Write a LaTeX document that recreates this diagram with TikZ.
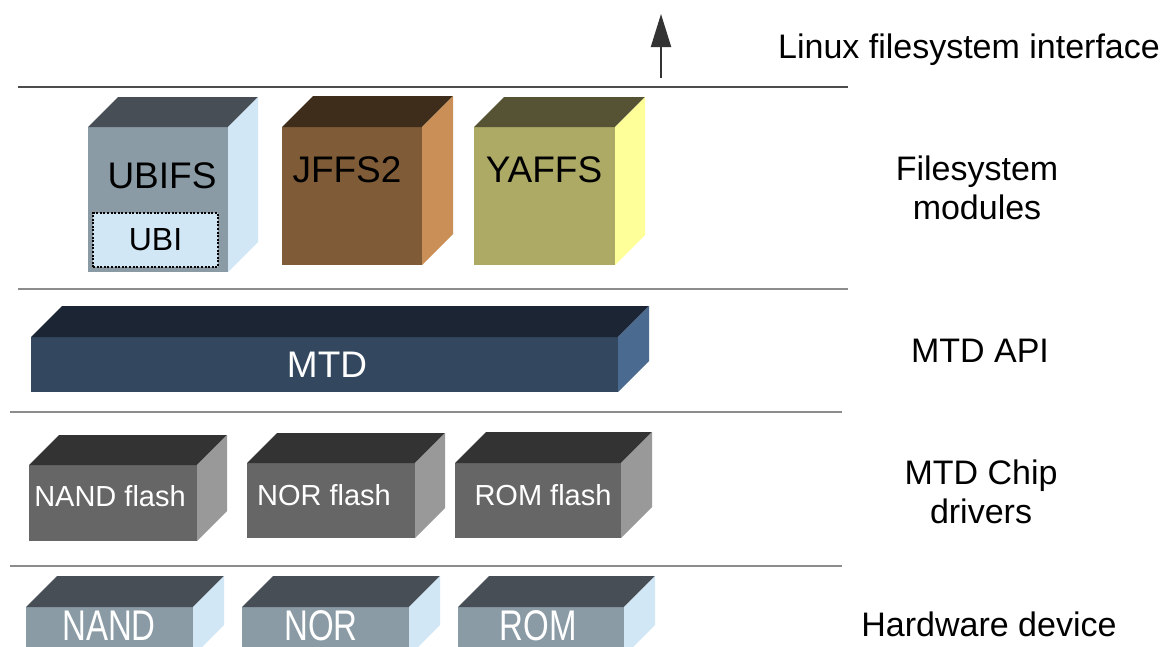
\documentclass[tikz,border=0pt]{standalone}
\usepackage{fontspec}
\setmainfont{Liberation Sans}
\usetikzlibrary{arrows.meta}

\definecolor{slatefront}{HTML}{8A9BA6}
\definecolor{slatetop}{HTML}{474E56}
\definecolor{slateside}{HTML}{D2E7F5}
\definecolor{jffsfront}{HTML}{7F5C37}
\definecolor{jffstop}{HTML}{3F2D1C}
\definecolor{jffsside}{HTML}{C98F57}
\definecolor{yaffsfront}{HTML}{ADAA66}
\definecolor{yaffstop}{HTML}{555334}
\definecolor{yaffsside}{HTML}{FFFF99}
\definecolor{mtdfront}{HTML}{33475F}
\definecolor{mtdtop}{HTML}{1B2533}
\definecolor{mtdside}{HTML}{4A6A8F}
\definecolor{chipfront}{HTML}{666666}
\definecolor{chiptop}{HTML}{333333}
\definecolor{chipside}{HTML}{999999}
\definecolor{layerline}{HTML}{8C8C8C}

% Extruded block: front face from (#1,#2) to (#3,#4), depth #5, colour set #6
\newcommand\blockcube[6]{%
  \fill[#6front] (#1,#2) rectangle (#3,#4);
  \fill[#6top] (#1,#2) -- (#1+#5,#2-#5) -- (#3+#5,#2-#5) -- (#3,#2) -- cycle;
  \fill[#6side] (#3,#2) -- (#3+#5,#2-#5) -- (#3+#5,#4-#5) -- (#3,#4) -- cycle;
}

\tikzset{
  layerrule/.style={draw=layerline, line width=2.6pt},
  toprule/.style={draw=black!70, line width=1.8pt},
  layerlabel/.style={font=\fontsize{34}{39}\selectfont, anchor=base, inner sep=0pt},
  fslabel/.style={font=\fontsize{37}{40}\selectfont, anchor=base, inner sep=0pt, text=black},
  mtdlabel/.style={font=\fontsize{37}{40}\selectfont, anchor=base, inner sep=0pt, text=white},
  chiplabel/.style={font=\fontsize{29}{32}\selectfont, anchor=base, inner sep=0pt, text=white},
  hwlabel/.style={font=\fontsize{33}{36}\selectfont, anchor=base, inner sep=0pt, text=white, yscale=1.3},
  ubibox/.style={draw=black, fill=slateside, line width=2pt, dash pattern=on 2pt off 1.6pt,
    minimum width=125pt, minimum height=54pt, inner sep=0pt, font=\fontsize{32}{34}\selectfont},
  uparrow/.style={draw=black!80, line width=2pt, -{Triangle[width=20pt,length=33pt]}}
}

\begin{document}
\begin{tikzpicture}[x=1pt, y=-1pt]
\useasboundingbox (0,0) rectangle (1165,646);
\begin{scope}
\clip (0,0) rectangle (1165,646);

% layer separators
\draw[toprule] (18,87) -- (848,87);
\draw[layerrule] (18,289) -- (848,289);
\draw[layerrule] (10,412) -- (842,412);
\draw[layerrule] (10,566) -- (842,566);

% interface arrow
\coordinate (ifbase) at (661,78);
\coordinate (iftip) at (661,14);
\draw[uparrow] (ifbase) -- (iftip);

% filesystem modules
\blockcube{88}{127}{228}{272}{30}{slate}
\blockcube{282}{127}{422}{265}{31}{jffs}
\blockcube{474}{127}{615}{265}{30}{yaffs}
\node[fslabel] (ubifs) at (162,188) {UBIFS};
\node[ubibox] (ubi) at (155.5,240) {UBI};
\node[fslabel] (jffs) at (347,182) {JFFS2};
\node[fslabel] (yaffs) at (544,182) {YAFFS};

% MTD layer
\blockcube{31}{337}{618}{392}{31}{mtd}
\node[mtdlabel] (mtd) at (327,377) {MTD};

% chip drivers
\blockcube{29}{465}{197}{541}{30}{chip}
\blockcube{247}{463}{415}{538}{30}{chip}
\blockcube{455}{463}{621}{538}{31}{chip}
\node[chiplabel] (nandflash) at (110,506) {NAND flash};
\node[chiplabel] (norflash) at (324,505) {NOR flash};
\node[chiplabel] (romflash) at (543,505) {ROM flash};

% hardware devices
\blockcube{26}{607}{193}{656}{31}{slate}
\blockcube{242}{607}{409}{656}{31}{slate}
\blockcube{458}{607}{624}{656}{31}{slate}
\node[hwlabel] (nand) at (109,640) {NAND};
\node[hwlabel] (nor) at (321,640) {NOR};
\node[hwlabel] (rom) at (538,640) {ROM};

% layer names
\node[layerlabel] (iface) at (969,58) {Linux filesystem interface};
\node[layerlabel] (fsmodA) at (977,180) {Filesystem};
\node[layerlabel] (fsmodB) at (977,219) {modules};
\node[layerlabel] (mtdapi) at (980,362) {MTD API};
\node[layerlabel] (chipA) at (981,484) {MTD Chip};
\node[layerlabel] (chipB) at (981,523) {drivers};
\node[layerlabel] (hwdev) at (989,636) {Hardware device};
\end{scope}
\end{tikzpicture}
\end{document}
